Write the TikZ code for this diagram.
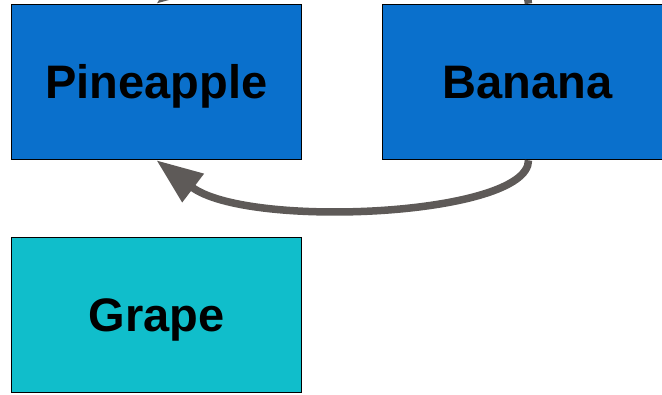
\documentclass[tikz,border=0pt]{standalone}
\usepackage{fontspec}
\setmainfont{Liberation Sans}
\usetikzlibrary{arrows.meta}
\definecolor{boxblue}{RGB}{10,112,204}
\definecolor{boxcyan}{RGB}{16,190,203}
\definecolor{arrowgray}{RGB}{94,90,88}
\begin{document}
\begin{tikzpicture}[x=1pt,y=1pt,
  fruit/.style={draw=black,line width=1.6pt,inner sep=0pt,minimum width=290pt,minimum height=155pt,
    text height=33.7pt,text depth=0pt,
    font=\fontsize{47}{50}\selectfont\bfseries,text=black},
  link/.style={draw=arrowgray,line width=7.5pt,-{Triangle[length=46pt,width=34pt]}}]
\useasboundingbox (0,0) rectangle (662,395);
\clip (0,0) rectangle (662,395);
\node[fruit,fill=boxblue] (p) at (156.5,313) {Pineapple};
\node[fruit,fill=boxblue] (b) at (527.5,313) {Banana};
\node[fruit,fill=boxcyan] (g) at (156.5,80) {Grape};
\coordinate (pb) at (p.south);
\coordinate (bb) at ([xshift=1pt]b.south);
\coordinate (pt) at (p.north);
\coordinate (bt) at ([xshift=1pt]b.north);
\draw[link] (bb) .. controls +(0,-56) and +(91,-69) .. (pb);
\draw[link] (bt) .. controls +(0,56) and +(91,69) .. (pt);
\end{tikzpicture}
\end{document}
